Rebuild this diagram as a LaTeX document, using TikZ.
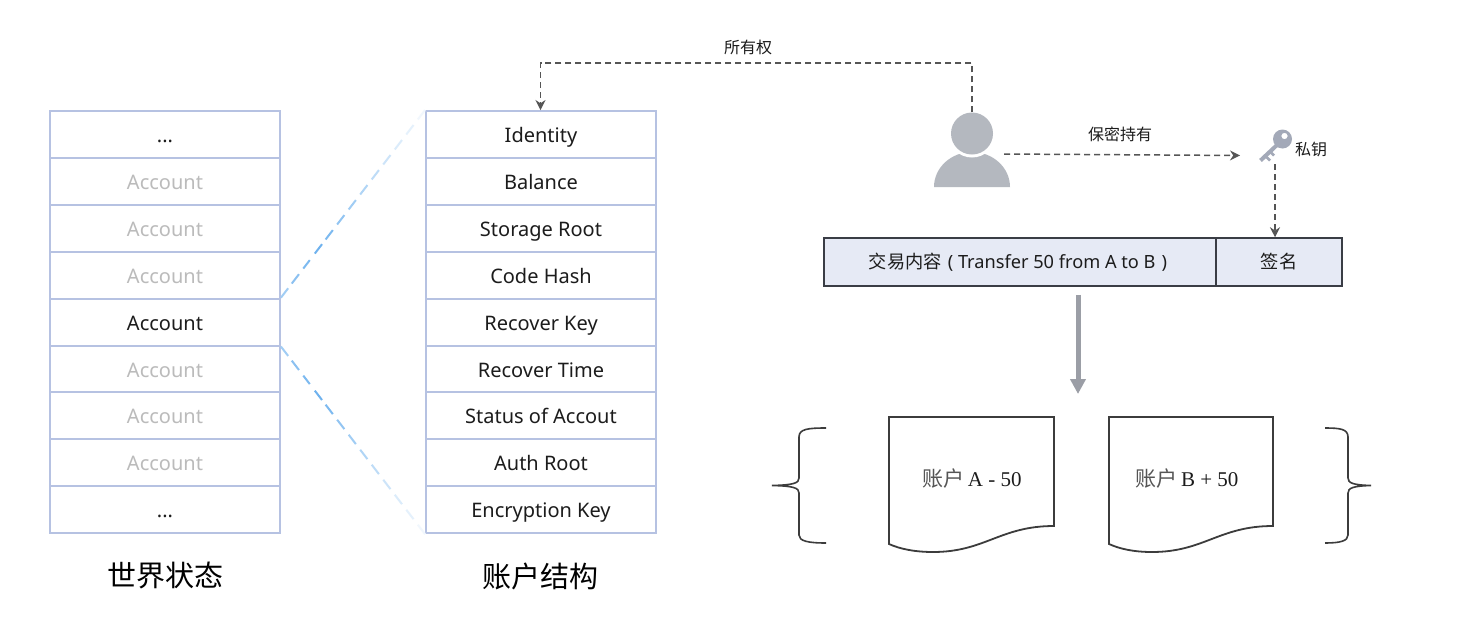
\documentclass[tikz,border=0pt]{standalone}
\usepackage{fontspec}
\setmainfont{Noto Sans}
\newfontfamily\cjk{Noto Sans CJK SC}
\newfontfamily\serifl{Liberation Serif}
\usetikzlibrary{arrows.meta,calc}
\definecolor{cellline}{HTML}{B6C2E2}
\definecolor{fadeblue}{HTML}{6FB2EE}
\definecolor{dimtext}{HTML}{BBBBBB}
\definecolor{inktext}{HTML}{1C1C1C}
\definecolor{txfill}{HTML}{E6EAF5}
\definecolor{txline}{HTML}{3A3D45}
\definecolor{persongray}{HTML}{B4B8BF}
\definecolor{keygray}{HTML}{A3A9B8}
\definecolor{dashgray}{HTML}{555555}
\definecolor{thickgray}{HTML}{9B9EA6}
\definecolor{docline}{HTML}{3C3C3C}
\tikzset{
  cell/.style={draw=cellline,line width=1.9pt,minimum width=230pt,minimum height=47pt,
    inner sep=0pt,text height=17pt,text depth=1pt,text=inktext,font=\fontsize{20}{20}\selectfont},
  dimcell/.style={cell,text=dimtext},
  titletext/.style={text=black,inner sep=0pt,font=\cjk\fontsize{29}{29}\selectfont},
  smalltext/.style={text=inktext,inner sep=0pt,font=\cjk\fontsize{16}{16}\selectfont},
  txbox/.style={draw=txline,fill=txfill,line width=1.5pt,inner sep=0pt,minimum height=48pt,
    text=inktext,font=\fontsize{18.2}{18.2}\selectfont},
  dashlink/.style={draw=dashgray,line width=1.5pt,dash pattern=on 6pt off 4pt,
    -{Stealth[length=10pt,width=10pt]}},
  doc/.style={draw=docline,line width=1.8pt,fill=white},
  doctext/.style={text=inktext,inner sep=0pt,font=\serifl\fontsize{21}{21}\selectfont},
  bracket/.style={draw=docline,line width=1.6pt},
  marker/.style={inner sep=0pt,minimum width=2pt,minimum height=2pt},
}
\begin{document}
\begin{tikzpicture}[x=1pt,y=-1pt]
\useasboundingbox (0,0) rectangle (1465,627);
\fill[white] (0,0) rectangle (1465,627);
% left column
\node[cell]    (l1) at (165,134.5) {...};
\node[dimcell] (l2) at (165,181.4) {Account};
\node[dimcell] (l3) at (165,228.3) {Account};
\node[dimcell] (l4) at (165,275.2) {Account};
\node[dimcell] (l6) at (165,369.0) {Account};
\node[dimcell] (l7) at (165,415.9) {Account};
\node[dimcell] (l8) at (165,462.8) {Account};
\node[cell]    (l9) at (165,509.7) {...};
\node[cell]    (l5) at (165,322.1) {Account};
% right column
\node[cell] (r1) at (541,134.5) {Identity};
\node[cell] (r2) at (541,181.4) {Balance};
\node[cell] (r3) at (541,228.3) {Storage Root};
\node[cell] (r4) at (541,275.2) {Code Hash};
\node[cell] (r5) at (541,322.1) {Recover Key};
\node[cell] (r6) at (541,369.0) {Recover Time};
\node[cell] (r7) at (541,415.9) {Status of Accout};
\node[cell] (r8) at (541,462.8) {Auth Root};
\node[cell] (r9) at (541,509.7) {Encryption Key};
\node[titletext] (t1) at (165,576) {世界状态};
\node[titletext] (t2) at (540,576) {账户结构};
% fading dashed lines
\foreach \a/\b/\c in {
  0.00/0.05/65,0.075/0.125/80,0.155/0.20/90,0.235/0.285/100,0.31/0.36/90,
  0.39/0.44/75,0.47/0.52/65,0.55/0.60/55,0.63/0.68/45,0.71/0.76/35,
  0.79/0.84/25,0.87/0.92/18,0.95/1.00/10}{
  \draw[line width=2pt,color=fadeblue!\c!white]
    ($(l5.north east)!\a!(r1.north west)$) -- ($(l5.north east)!\b!(r1.north west)$);
  \draw[line width=2pt,color=fadeblue!\c!white]
    ($(l5.south east)!\a!(r9.south west)$) -- ($(l5.south east)!\b!(r9.south west)$);
}
% person
\fill[persongray] (934,187) arc[start angle=180,end angle=0,x radius=38,y radius=-35] -- cycle;
\fill[white] (972,133.5) circle[radius=24];
\node[circle,fill=persongray,minimum size=42pt,inner sep=0pt] (head) at (972,133.5) {};
\node[marker] (body) at (1003,154) {};
\coordinate (keyarrow) at (1240,155.5);
% key
\draw[keygray,line width=4pt] (1277,145) -- (1260.5,160.5);
\draw[keygray,line width=2.8pt] (1265.5,156) -- (1270,160.5) (1270,151.5) -- (1274,155.5);
\fill[keygray,even odd rule] (1282.5,139) circle[radius=9.5] (1284.5,136) circle[radius=3.2];
\node[marker] (key) at (1275,163) {};
\node[smalltext] (keylabel) at (1311,149) {私钥};
% transaction
\node[txbox,minimum width=392pt] (tx) at (1020,262) {\hspace*{-4pt}{\cjk 交易内容}\,\,( Transfer 50 from A to B\,\,)};
\node[txbox,minimum width=126pt,font=\cjk\fontsize{18.2}{18.2}\selectfont] (sig) at (1279,262) {签名};
% dashed links
\coordinate (bendr) at (972,63);
\coordinate (bendl) at (540.5,63);
\draw[dashlink] (head.north) -- (bendr) -- (bendl) -- (r1.north -| bendl);
\node[smalltext] (owner) at (748,47) {所有权};
\draw[dashlink] (body) -- (keyarrow);
\node[smalltext] (secret) at (1120,134) {保密持有};
\draw[dashlink] (key) -- (key |- sig.north);
% thick arrow
\coordinate (thickend) at (1078,394);
\draw[thickgray,line width=5pt,-{Stealth[length=15pt,width=15pt,inset=0pt]}] (tx.south -| thickend) ++(0,8) -- (thickend);
% documents
\draw[doc] (889,417) -- (1054,417) -- (1054,526) .. controls (1000,526) and (985,552) .. (933,552)
  .. controls (915,552) and (900,549) .. (889,544) -- cycle;
\draw[doc] (1109,417) -- (1273,417) -- (1273,526) .. controls (1219,526) and (1204,552) .. (1152,552)
  .. controls (1134,552) and (1120,549) .. (1109,544) -- cycle;
\node[doctext] (da) at (972,479) {{\cjk\color{inktext!75}账户}\,A - 50};
\node[doctext] (db) at (1187,479) {{\cjk\color{inktext!75}账户}\,B + 50};
% braces
\draw[bracket] (826,428) .. controls (808,428) and (799,429) .. (799,437) -- (799,478)
  .. controls (799,483) and (794,485) .. (772,485.5)
  .. controls (794,486) and (799,488) .. (799,493) -- (799,535)
  .. controls (799,541) and (808,543) .. (826,543);
\draw[bracket] (1325,428) .. controls (1340,428) and (1348,429) .. (1348,437) -- (1348,478)
  .. controls (1348,483) and (1353,485) .. (1371,485.5)
  .. controls (1353,486) and (1348,488) .. (1348,493) -- (1348,535)
  .. controls (1348,541) and (1340,543) .. (1325,543);
\end{tikzpicture}
\end{document}
